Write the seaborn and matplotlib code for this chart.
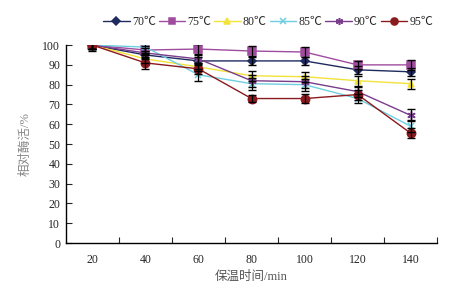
import numpy as np
import pandas as pd
import seaborn as sns
import matplotlib.pyplot as plt

times = [20, 40, 60, 80, 100, 120, 140]
temps = ['70℃', '75℃', '80℃', '85℃', '90℃', '95℃']

v70 = [100, 95, 92, 92, 92, 87.5, 86.5]
v75 = [100, 97.5, 98, 97, 96.5, 90, 90]
v80 = [100, 93, 89, 84.5, 84, 82, 80.5]
v85 = [100, 99, 85, 80.5, 80, 73, 59]
v90 = [100, 96, 93, 82, 81.5, 76.5, 64.5]
v95 = [100, 91, 88, 73, 73, 75, 55.5]

e70 = [2, 2, 2, 2, 2, 2, 2]
e75 = [2, 2, 2.5, 2.5, 2.5, 2, 2.5]
e80 = [2, 2, 2, 2.5, 2.5, 2.5, 2.5]
e85 = [2, 3, 3, 3, 3, 2.5, 3]
e90 = [2, 2.5, 2, 3, 3, 2.5, 3]
e95 = [3, 3, 2.5, 2, 2.5, 2.5, 2.5]

colors = ['#1f2a5e', '#a04c9e', '#f2e23a', '#6fcfe0', '#7a3c8c', '#8b1a1f']
markers = ['D', 's', '^', 'x', (6, 2, 0), 'o']
msizes = [4.5, 5.5, 5, 5, 6, 6]

vals = [v70, v75, v80, v85, v90, v95]
errs = [e70, e75, e80, e85, e90, e95]

sns.set_style('ticks')
plt.rcParams['font.family'] = ['Liberation Serif', 'Noto Sans CJK SC', 'DejaVu Sans']

fig = plt.figure(figsize=(4.54, 2.89), dpi=100)
ax = fig.add_axes([0.145, 0.159, 0.818, 0.685])

pos = list(range(len(times)))
for k, t in enumerate(temps):
    df = pd.DataFrame({'pos': pos, 'act': vals[k]})
    sns.lineplot(data=df, x='pos', y='act', color=colors[k], marker=markers[k],
                 markersize=msizes[k], markeredgecolor=colors[k],
                 markeredgewidth=1.1, linewidth=1, label=t, ax=ax, zorder=3)

for k, t in enumerate(temps):
    ax.errorbar(pos, vals[k], yerr=errs[k], fmt='none',
                ecolor='black', elinewidth=0.9, capsize=3, capthick=1, zorder=4)

ax.set_xlim(-0.5, 6.5)
ax.set_ylim(0, 100)
ax.set_xticks(np.arange(0.5, 7, 1))
ax.set_xticklabels([])
ax.set_xticks(pos, minor=True)
ax.set_xticklabels([str(t) for t in times], minor=True)
ax.tick_params(axis='x', which='minor', length=0, pad=8, labelsize=8.5)
ax.tick_params(axis='x', which='major', direction='in', length=4)
ax.set_yticks(range(0, 101, 10))
ax.tick_params(axis='y', direction='in', length=4, labelsize=8.5, pad=4)
sns.despine(ax=ax)
for s in ['left', 'bottom']:
    ax.spines[s].set_linewidth(1)
    ax.spines[s].set_color('black')

ax.set_xlabel('保温时间/min', fontsize=9, color='#555555', labelpad=3)
ax.set_ylabel('相对酶活/%', fontsize=9, color='#888888', labelpad=8)

handles, labels = ax.get_legend_handles_labels()
ax.legend(handles, labels, loc='lower center', bbox_to_anchor=(0.545, 1.06),
          ncol=6, frameon=False, fontsize=8.6, handlelength=2.2,
          handletextpad=0.2, columnspacing=0.25, borderaxespad=0,
          markerscale=0.85)

fig.savefig('out.png', dpi=100)
